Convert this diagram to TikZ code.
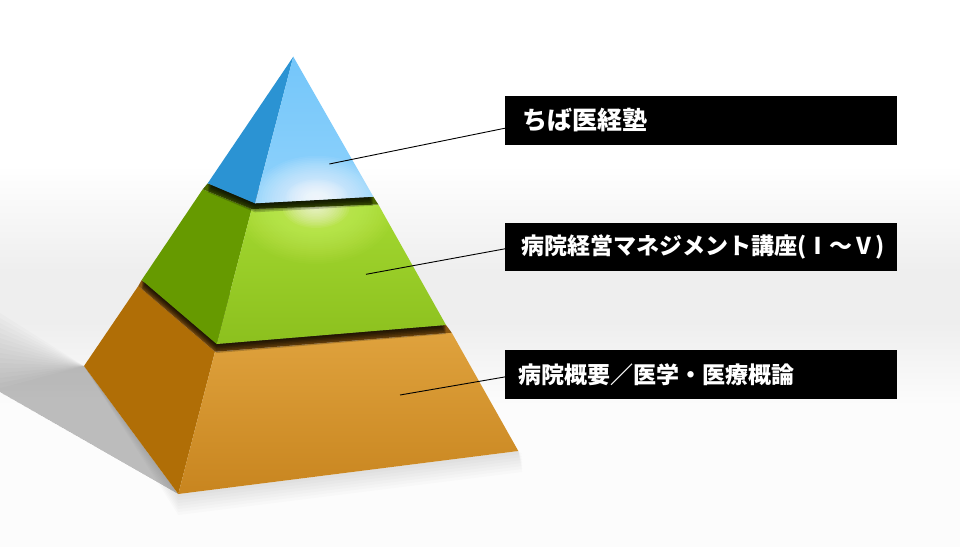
\documentclass[tikz,border=0pt]{standalone}
\usepackage{fontspec}
\usetikzlibrary{calc}
\newfontfamily\jp{Noto Sans CJK JP}
\definecolor{bgG}{HTML}{EEEEEE}
\definecolor{bgW}{HTML}{FCFCFC}
\definecolor{blL}{HTML}{2B93D3}
\definecolor{blT}{HTML}{74C6FA}
\definecolor{blB}{HTML}{8FD2FB}
\definecolor{grL}{HTML}{669A00}
\definecolor{grT}{HTML}{A3D830}
\definecolor{grB}{HTML}{8CC01E}
\definecolor{grBand}{HTML}{4A6600}
\definecolor{glowG}{HTML}{E2FF7A}
\definecolor{orL}{HTML}{B06E06}
\definecolor{orT}{HTML}{DFA23D}
\definecolor{orB}{HTML}{C8851F}
\definecolor{orBand}{HTML}{8A5710}
\tikzset{
  lbl/.style={fill=black,text=white,anchor=north west,minimum height=48.4pt,
    inner ysep=0pt,align=left},
  leader/.style={draw=black,line width=0.9pt},
}
\begin{document}
\begin{tikzpicture}[x=1pt,y=-1pt]
\useasboundingbox (0,0) rectangle (960,547);
% background
\fill[white] (0,0) rectangle (960,547);
\shade[top color=white,bottom color=bgG] (0,165) rectangle (960,272);
\fill[bgG] (0,271.5) rectangle (960,322);
\shade[top color=bgG,bottom color=bgW] (0,321.5) rectangle (960,405);
\fill[bgW] (0,404.5) rectangle (960,547);
% coordinates
\coordinate (A) at (293.3,56.7);
\coordinate (BL) at (207.7,183.3);
\coordinate (BF) at (255,203.3);
\coordinate (BR) at (373.3,196.7);
\coordinate (GTL) at (202.7,189.3);
\coordinate (GTF) at (251.7,209);
\coordinate (GTR) at (378.3,204.5);
\coordinate (GBL) at (141.7,280);
\coordinate (GBF) at (216.7,344);
\coordinate (GBR) at (446,325);
\coordinate (OTL) at (138.3,286);
\coordinate (OTF) at (215,351.7);
\coordinate (OTR) at (451.7,332.7);
\coordinate (OBL) at (84,366);
\coordinate (OBF) at (178.3,494);
\coordinate (OBR) at (518.3,451);
% cast shadows on the floor
\foreach \h in {4,9,...,80}
  \fill[black,opacity=0.014] (OBF) -- (0,392) -- (0,{392-\h}) -- (OBL) -- cycle;
\foreach \d in {3,6,...,21}
  \fill[black,opacity=0.016] (OBL) -- (OBF) -- (OBR) -- ($(OBR)+(4,\d)$) -- ($(OBF)+(0,\d)$) -- cycle;
% orange layer
\fill[orL] (OTL) -- (OTF) -- (OBF) -- (OBL) -- cycle;
\shade[top color=orT,bottom color=orB] (OTF) -- (OTR) -- (OBR) -- (OBF) -- cycle;
\fill[orBand] (OTL) -- (OTF) -- (OTR) -- (GBR) -- (GBF) -- (GBL) -- cycle;
\begin{scope}
  \clip (OBL) -- (OTL) -- (GBL) -- (GBR) -- (OTR) -- (OBR) -- (OBF) -- cycle;
  \foreach \s in {1.5,3,...,9}
    \fill[black,opacity=0.2] ($(GTL)+(0,\s)$) -- ($(GBL)+(0,\s)$) -- ($(GBF)+(0,\s)$)
      -- ($(GBR)+(0,\s)$) -- ($(GTR)+(0,\s)$) -- cycle;
\end{scope}
% green layer
\fill[grL] (GTL) -- (GTF) -- (GBF) -- (GBL) -- cycle;
\shade[top color=grT,bottom color=grB] (GTF) -- (GTR) -- (GBR) -- (GBF) -- cycle;
\begin{scope}
  \clip (GTF) -- (GTR) -- (GBR) -- (GBF) -- cycle;
  \foreach \r in {2,4,...,56}
    \fill[glowG,opacity=0.035] (316,208) ellipse ({1.4*\r} and \r);
  \foreach \r in {1.5,3,...,21}
    \fill[white,opacity=0.07] (316,207) ellipse ({1.6*\r} and \r);
\end{scope}
\fill[grBand] (GTL) -- (GTF) -- (GTR) -- (BR) -- (BF) -- (BL) -- cycle;
\begin{scope}
  \clip (GBL) -- (GTL) -- (BL) -- (BR) -- (GTR) -- (GBR) -- (GBF) -- cycle;
  \foreach \s in {1.5,3,...,9}
    \fill[black,opacity=0.2] ($(A)+(0,\s)$) -- ($(BL)+(0,\s)$) -- ($(BF)+(0,\s)$)
      -- ($(BR)+(0,\s)$) -- cycle;
\end{scope}
% blue layer
\fill[blL] (A) -- (BL) -- (BF) -- cycle;
\shade[top color=blT,bottom color=blB] (A) -- (BF) -- (BR) -- cycle;
\begin{scope}
  \clip (A) -- (BF) -- (BR) -- cycle;
  \foreach \r in {2,4,...,52}
    \fill[white,opacity=0.055] (317,200) ellipse ({1.25*\r} and {0.85*\r});
  \foreach \r in {2,4,...,22}
    \fill[white,opacity=0.09] (317,197) ellipse ({1.4*\r} and {0.8*\r});
\end{scope}
% labels
\node[lbl,inner xsep=17.5pt,text width=357pt,font=\jp\bfseries\fontsize{25pt}{30pt}\selectfont]
  (l1) at (505,96) {ちば医経塾};
\node[lbl,inner xsep=16.5pt,text width=359pt,font=\jp\bfseries\fontsize{23pt}{28pt}\selectfont]
  (l2) at (505,222.4) {病院経営マネジメント講座(Ⅰ～Ⅴ)};
\node[lbl,inner xsep=13pt,text width=366pt,font=\jp\bfseries\fontsize{23pt}{28pt}\selectfont]
  (l3) at (505,350) {病院概要／医学・医療概論};
% leaders
\coordinate (p1) at (329.3,164);
\coordinate (p2) at (366,274.3);
\coordinate (p3) at (400,395);
\draw[leader] (p1) -- ([yshift=-7.8pt]l1.west);
\draw[leader] (p2) -- ([yshift=-2pt]l2.west);
\draw[leader] (p3) -- ([yshift=-2.5pt]l3.west);
\end{tikzpicture}
\end{document}
